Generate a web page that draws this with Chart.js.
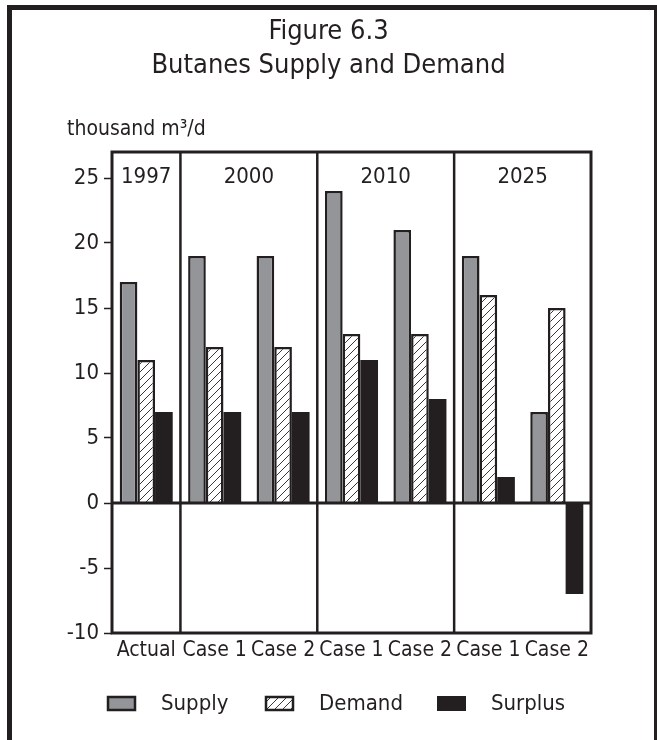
<!DOCTYPE html>
<html>
<head>
<meta charset="utf-8">
<title>Butanes Supply and Demand</title>
<script src="https://cdn.jsdelivr.net/npm/chart.js@4.4.1/dist/chart.umd.min.js"></script>
<style>
  html, body { margin: 0; padding: 0; background: #fff; }
  body { width: 657px; height: 740px; position: relative; overflow: hidden; }
  .frame {
    position: absolute; left: 7px; top: 5px; width: 650px; height: 800px;
    box-sizing: border-box;
    border-left: 5px solid #231f20; border-top: 5px solid #231f20; border-right: 3px solid #231f20;
  }
  .wrap { position: absolute; left: 0; top: 0; width: 657px; height: 740px; }
</style>
</head>
<body>
<div class="frame"></div>
<div class="wrap"><canvas id="chart"></canvas></div>
<script>
const categories = ['Actual', 'Case 1', 'Case 2', 'Case 1', 'Case 2', 'Case 1', 'Case 2'];
const groupLabels = ['1997', '2000', '2010', '2025'];
const groupSpans = [1, 2, 2, 2];
const supply = [17, 19, 19, 24, 21, 19, 7];
const demand = [11, 12, 12, 13, 13, 16, 15];
const surplus = [7, 7, 7, 11, 8, 2, -7];
const yTicks = [-10, -5, 0, 5, 10, 15, 20, 25];

const DARK = '#231f20';
const GRAY = '#939598';
const FONT = "'Liberation Sans Narrow', 'DejaVu Sans Condensed', 'Arial Narrow', sans-serif";

// diagonal hatch for the demand bars
function makeHatch() {
    const c = document.createElement('canvas');
    c.width = 8; c.height = 8;
    const g = c.getContext('2d');
    g.fillStyle = '#fff';
    g.fillRect(0, 0, 8, 8);
    g.strokeStyle = '#3b3838';
    g.lineWidth = 1;
    g.beginPath();
    g.moveTo(0, 8); g.lineTo(8, 0);
    g.moveTo(-1, 1); g.lineTo(1, -1);
    g.moveTo(7, 9); g.lineTo(9, 7);
    g.stroke();
    return g.createPattern(c, 'repeat');
}
const hatch = makeHatch();

// frame, zero line, group dividers, group labels, unit label, legend
const extras = {
    id: 'extras',
    afterDatasetsDraw(chart) {
        const { ctx, chartArea: a, scales: { x, y } } = chart;
        ctx.save();
        ctx.strokeStyle = DARK;

        const y0 = y.getPixelForValue(0);
        ctx.lineWidth = 3;
        ctx.beginPath();
        ctx.moveTo(a.left, y0);
        ctx.lineTo(a.right, y0);
        ctx.stroke();

        ctx.fillStyle = DARK;
        ctx.font = '22px ' + FONT;
        ctx.textAlign = 'center';
        ctx.textBaseline = 'alphabetic';
        let start = 0;
        groupLabels.forEach((label, g) => {
            const end = start + groupSpans[g] - 1;
            if (start > 0) {
                const bx = (x.getPixelForValue(start - 1) + x.getPixelForValue(start)) / 2;
                ctx.lineWidth = 2.5;
                ctx.beginPath();
                ctx.moveTo(bx, a.top);
                ctx.lineTo(bx, a.bottom);
                ctx.stroke();
            }
            const cx = (x.getPixelForValue(start) + x.getPixelForValue(end)) / 2;
            ctx.fillText(label, cx, a.top + 31);
            start = end + 1;
        });

        ctx.lineWidth = 3;
        ctx.strokeRect(a.left, a.top, a.right - a.left, a.bottom - a.top);
        ctx.restore();
    },
    afterDraw(chart) {
        const { ctx } = chart;
        ctx.save();
        ctx.fillStyle = DARK;
        ctx.font = '21px ' + FONT;
        ctx.textAlign = 'left';
        ctx.textBaseline = 'alphabetic';
        ctx.fillText('thousand m\u00b3/d', 67, 135);

        // legend
        const boxX = [107, 265, 437];
        ctx.font = '22px ' + FONT;
        ctx.textBaseline = 'middle';
        chart.data.datasets.forEach((ds, i) => {
            const bx = boxX[i], by = 696;
            ctx.fillStyle = ds.backgroundColor;
            ctx.fillRect(bx, by, 29, 15);
            if (ds.borderWidth) {
                ctx.strokeStyle = DARK;
                ctx.lineWidth = 2.5;
                ctx.strokeRect(bx + 1, by + 1, 27, 13);
            }
            ctx.fillStyle = DARK;
            ctx.fillText(ds.label, bx + 54, 704);
        });
        ctx.restore();
    }
};

new Chart(document.getElementById('chart'), {
    type: 'bar',
    data: {
        labels: categories,
        datasets: [
            { label: 'Supply', data: supply, backgroundColor: GRAY, borderColor: DARK, borderWidth: 2.5 },
            { label: 'Demand', data: demand, backgroundColor: hatch, borderColor: DARK, borderWidth: 2.5 },
            { label: 'Surplus', data: surplus, backgroundColor: DARK, borderWidth: 0 }
        ]
    },
    options: {
        responsive: true,
        maintainAspectRatio: false,
        animation: false,
        events: [],
        // equal side padding keeps the title centred on the page
        layout: { padding: { left: 66, right: 66, top: 0, bottom: 0 } },
        datasets: { bar: { categoryPercentage: 0.775, barPercentage: 1.0 } },
        scales: {
            x: {
                grid: { display: false, drawTicks: false },
                border: { display: false },
                ticks: { color: DARK, font: { family: FONT, size: 21 }, padding: 5, maxRotation: 0, autoSkip: false },
                afterFit: s => { s.height = 107; }
            },
            y: {
                min: -10,
                max: 27,
                afterBuildTicks: s => { s.ticks = yTicks.map(v => ({ value: v })); },
                grid: { drawOnChartArea: false, drawTicks: true, tickLength: 8, tickColor: DARK, tickWidth: 1.5 },
                border: { display: false },
                ticks: { color: DARK, font: { family: FONT, size: 22 }, padding: 5 },
                afterFit: s => { s.width = 46; }
            }
        },
        plugins: {
            legend: { display: false },
            tooltip: { enabled: false },
            title: {
                display: true,
                text: ['Figure 6.3', 'Butanes Supply and Demand'],
                color: DARK,
                font: { family: FONT, size: 27, weight: 'normal', lineHeight: 34 / 27 },
                padding: { top: 15, bottom: 69 }
            }
        }
    },
    plugins: [extras]
});
</script>
</body>
</html>
